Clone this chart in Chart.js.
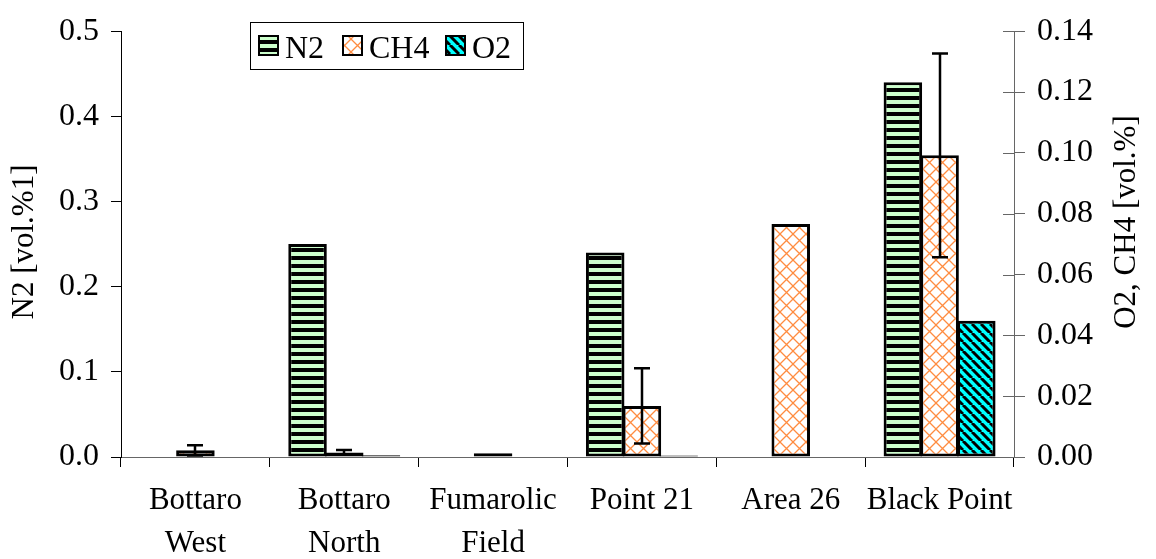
<!DOCTYPE html>
<html>
<head>
<meta charset="utf-8">
<script src="https://cdn.jsdelivr.net/npm/chart.js@4/dist/chart.umd.min.js"></script>
<style>
  html, body { margin: 0; padding: 0; background: #ffffff; }
  #wrap { width: 1156px; height: 559px; }
</style>
</head>
<body>
<div id="wrap"><canvas id="c" width="1156" height="559"></canvas></div>
<script>
// Sampling sites
const categories = [["Bottaro", "West"], ["Bottaro", "North"], ["Fumarolic", "Field"], ["Point 21"], ["Area 26"], ["Black Point"]];

// N2 on the left axis [vol.%]
const n2 = [null, 0.25, null, 0.24, null, 0.44];
// CH4 and O2 on the right axis [vol.%]
const ch4 = [0.0022, 0.0015, 0.0012, 0.0168, 0.0766, 0.0992];
const ch4Err = [0.0017, 0.0008, 0, 0.0124, 0, 0.0335];
const o2 = [null, 0.0006, null, 0.0005, null, 0.0448];

const leftTicks = { max: 0.5, step: 0.1, digits: 1 };
const rightTicks = { max: 0.14, step: 0.02, digits: 2 };

const FONT = "'Liberation Serif', 'Times New Roman', serif";

// Fill patterns for the three gases
function makePattern(size, draw) {
  const cv = document.createElement('canvas');
  cv.width = size; cv.height = size;
  const g = cv.getContext('2d');
  draw(g, size);
  return g.createPattern(cv, 'repeat');
}
const ctxMain = document.getElementById('c').getContext('2d');
const stripesN2 = makePattern(8, (g, s) => {
  g.fillStyle = '#ccffcc'; g.fillRect(0, 0, s, s);
  g.fillStyle = '#000000'; g.fillRect(0, 0, s, 4);
});
const latticeCH4 = makePattern(13, (g, s) => {
  g.fillStyle = '#ffffff'; g.fillRect(0, 0, s, s);
  g.strokeStyle = '#ff8c40'; g.lineWidth = 1.3;
  g.beginPath();
  g.moveTo(0, 0); g.lineTo(s, s);
  g.moveTo(s, 0); g.lineTo(0, s);
  g.stroke();
});
const diagO2 = makePattern(9, (g, s) => {
  g.fillStyle = '#00ffff'; g.fillRect(0, 0, s, s);
  g.strokeStyle = '#000000'; g.lineWidth = 3;
  g.beginPath();
  for (let k = -1; k <= 1; k++) { g.moveTo(k * s, 0); g.lineTo(k * s + s, s); }
  g.stroke();
});

// Error bars for the CH4 series
const errorBars = {
  id: 'errorBars',
  afterDatasetsDraw(chart) {
    const meta = chart.getDatasetMeta(1);
    const ys = chart.scales.y1;
    const c = chart.ctx;
    c.save();
    c.strokeStyle = '#000'; c.lineWidth = 2.5;
    meta.data.forEach((bar, i) => {
      const v = ch4[i], e = ch4Err[i];
      if (v == null || !e) return;
      const x = Math.round(bar.x);
      const top = ys.getPixelForValue(v + e), bot = ys.getPixelForValue(v - e);
      c.beginPath();
      c.moveTo(x, top); c.lineTo(x, bot);
      c.moveTo(x - 8, top); c.lineTo(x + 8, top);
      c.moveTo(x - 8, bot); c.lineTo(x + 8, bot);
      c.stroke();
    });
    c.restore();
  }
};

// Inner half of the crossing ticks on the right axis, axis titles and boxed legend
const decor = {
  id: 'decor',
  afterDraw(chart) {
    const c = chart.ctx;
    const ys = chart.scales.y1;
    c.save();
    c.strokeStyle = '#666'; c.lineWidth = 1;
    ys.ticks.forEach(t => {
      const y = Math.round(ys.getPixelForValue(t.value)) + 0.5;
      c.beginPath(); c.moveTo(ys.left - 11, y); c.lineTo(ys.left, y); c.stroke();
    });

    c.fillStyle = '#000';
    c.font = '31px ' + FONT;
    c.textAlign = 'center'; c.textBaseline = 'middle';
    c.save(); c.translate(25, 242); c.rotate(-Math.PI / 2); c.fillText('N2 [vol.%1]', 0, 0); c.restore();
    c.save(); c.translate(1127, 222); c.rotate(-Math.PI / 2); c.fillText('O2, CH4 [vol.%]', 0, 0); c.restore();

    // legend
    const lx = 250, ly = 22, lw = 273, lh = 47;
    c.fillStyle = '#fff'; c.fillRect(lx, ly, lw, lh);
    c.strokeStyle = '#000'; c.lineWidth = 1;
    c.strokeRect(lx + 0.5, ly + 0.5, lw, lh);
    const sw = [258, 342, 445];
    c.font = '32px ' + FONT;
    c.textAlign = 'left'; c.textBaseline = 'alphabetic';
    chart.data.datasets.forEach((ds, i) => {
      const x = sw[i], y = 35;
      c.fillStyle = ds.backgroundColor;
      c.fillRect(x, y, 21, 21);
      c.strokeStyle = '#000'; c.lineWidth = 2;
      c.strokeRect(x + 1, y + 1, 19, 19);
      c.fillStyle = '#000';
      c.fillText(ds.label, x + 27, 58);
    });
    c.restore();
  }
};

new Chart(ctxMain, {
  type: 'bar',
  data: {
    labels: categories,
    datasets: [
      { label: 'N2', data: n2, yAxisID: 'y', backgroundColor: stripesN2, borderColor: '#000', borderWidth: 3 },
      { label: 'CH4', data: ch4, yAxisID: 'y1', backgroundColor: latticeCH4, borderColor: '#000', borderWidth: 3 },
      { label: 'O2', data: o2, yAxisID: 'y1', backgroundColor: diagO2, borderColor: '#000', borderWidth: 3 }
    ]
  },
  options: {
    responsive: false,
    animation: false,
    devicePixelRatio: 1,
    layout: { padding: { top: 24, left: 0, right: 0, bottom: 0 } },
    plugins: { legend: { display: false }, tooltip: { enabled: false } },
    datasets: { bar: { categoryPercentage: 0.74, barPercentage: 1.05, borderSkipped: false } },
    scales: {
      x: {
        afterFit(s) { s.height = 102; },
        grid: { drawOnChartArea: false, tickLength: 10, color: '#000', offset: true },
        border: { color: '#666', width: 1 },
        ticks: { color: '#000', font: { family: FONT, size: 31, lineHeight: 1.4 }, padding: 12, maxRotation: 0, autoSkip: false }
      },
      y: {
        position: 'left',
        min: 0, max: leftTicks.max,
        afterFit(s) { s.width = 121; },
        grid: { drawOnChartArea: false, tickLength: 10, color: '#000' },
        border: { color: '#000', width: 1 },
        ticks: { stepSize: leftTicks.step, color: '#000', padding: 12,
          font: { family: FONT, size: 32 },
          callback: v => Number(v).toFixed(leftTicks.digits) }
      },
      y1: {
        position: 'right',
        min: 0, max: rightTicks.max,
        afterFit(s) { s.width = 142; },
        grid: { drawOnChartArea: false, tickLength: 11, color: '#666' },
        border: { color: '#666', width: 1 },
        ticks: { stepSize: rightTicks.step, color: '#000', padding: 12,
          font: { family: FONT, size: 32 },
          callback: v => Number(v).toFixed(rightTicks.digits) }
      }
    }
  },
  plugins: [errorBars, decor]
});
</script>
</body>
</html>
